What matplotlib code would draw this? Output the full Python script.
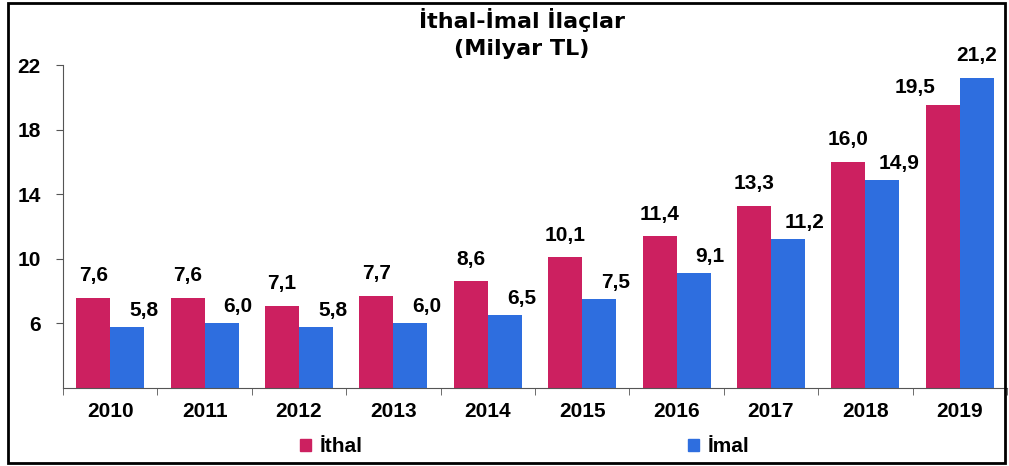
import matplotlib.pyplot as plt
import matplotlib.patches as patches
import numpy as np

plt.rcParams['font.family'] = ['Liberation Sans', 'DejaVu Sans']
plt.rcParams['font.weight'] = 'bold'

yillar = ['2010', '2011', '2012', '2013', '2014', '2015', '2016', '2017', '2018', '2019']
ithal = [7.6, 7.6, 7.1, 7.7, 8.6, 10.1, 11.4, 13.3, 16.0, 19.5]
imal = [5.8, 6.0, 5.8, 6.0, 6.5, 7.5, 9.1, 11.2, 14.9, 21.2]

renk_ithal = '#CC2060'
renk_imal = '#2E6EDF'

fig = plt.figure(figsize=(10.09, 4.66), dpi=100)
ax = fig.add_axes([0.0624, 0.1674, 0.9356, 0.6931])

x = np.arange(len(yillar))
w = 0.36
ax.bar(x - w / 2, ithal, w, color=renk_ithal)
ax.bar(x + w / 2, imal, w, color=renk_imal)

def etiket(v):
    return ('%.1f' % v).replace('.', ',')

son = len(yillar) - 1
for i, (xi, v) in enumerate(zip(x, ithal)):
    dx = -20 if i == son else 0
    dy = 6 if i == son else 9
    ax.annotate(etiket(v), (xi - w / 2, v), xytext=(dx, dy), textcoords='offset points',
                ha='center', va='bottom', fontsize=15, fontweight='bold')
for i, (xi, v) in enumerate(zip(x, imal)):
    # son etiket cerceveye tasmasin diye ortada
    dx = 0 if i == son else 12
    dy = 9 if i == son else 5
    ax.annotate(etiket(v), (xi + w / 2, v), xytext=(dx, dy), textcoords='offset points',
                ha='center', va='bottom', fontsize=15, fontweight='bold')

ax.set_ylim(2, 22)
ax.set_xlim(-0.5, len(yillar) - 0.5)
ax.set_yticks([6, 10, 14, 18, 22])
ax.set_xticks(x)
ax.set_xticklabels(yillar)
ax.set_xticks(np.arange(-0.5, len(yillar), 1), minor=True)
ax.tick_params(axis='x', which='major', length=0, labelsize=15, pad=10)
ax.tick_params(axis='x', which='minor', length=5, direction='out', color='#555555')
ax.tick_params(axis='y', length=5, direction='out', labelsize=15, pad=11, color='#555555')
for lbl in ax.get_xticklabels() + ax.get_yticklabels():
    lbl.set_fontweight('bold')

ax.spines['top'].set_visible(False)
ax.spines['right'].set_visible(False)
ax.spines['left'].set_color('#555555')
ax.spines['bottom'].set_color('#555555')

fig.text(0.517, 0.957, 'İthal-İmal İlaçlar', ha='center', va='center', fontsize=16,
         fontweight='bold', family='DejaVu Sans')
fig.text(0.517, 0.894, '(Milyar TL)', ha='center', va='center', fontsize=16,
         fontweight='bold', family='DejaVu Sans')

h1 = patches.Patch(color=renk_ithal, label='İthal')
h2 = patches.Patch(color=renk_imal, label='İmal')
fig.legend(handles=[h1, h2], ncol=2, loc='center', bbox_to_anchor=(0.52, 0.041),
           frameon=False, handlelength=0.55, handleheight=0.55, handletextpad=0.4,
           columnspacing=15.6, borderpad=0, prop={'size': 15, 'weight': 'bold'})

cerceve = patches.Rectangle((8 / 1009, 3 / 466), 997 / 1009, 460 / 466, transform=fig.transFigure,
                            fill=False, edgecolor='black', linewidth=2)
fig.patches.append(cerceve)

fig.savefig('out.png', dpi=100)
